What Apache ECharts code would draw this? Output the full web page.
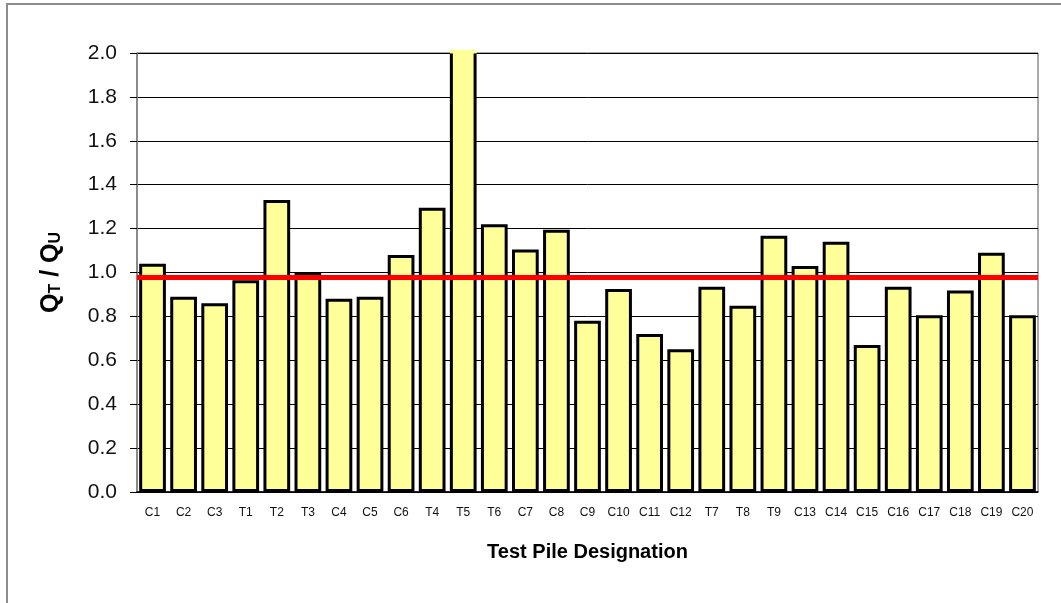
<!DOCTYPE html>
<html>
<head>
<meta charset="utf-8">
<script src="https://cdn.jsdelivr.net/npm/echarts@6/dist/echarts.min.js"></script>
<style>
  html, body { margin: 0; padding: 0; background: #fff; }
  #chart { width: 1061px; height: 603px; }
</style>
</head>
<body>
<div id="chart"></div>
<script>
// test pile designations, in plotted order
const piles = ["C1", "C2", "C3", "T1", "T2", "T3", "C4", "C5", "C6", "T4", "T5", "T6",
  "C7", "C8", "C9", "C10", "C11", "C12", "T7", "T8", "T9", "C13", "C14", "C15",
  "C16", "C17", "C18", "C19", "C20"];
// Q_T / Q_U ratio per pile (T5 runs just past the top of the axis)
const ratios = [1.04, 0.89, 0.86, 0.965, 1.33, 1.0, 0.88, 0.89, 1.08, 1.295, 2.015, 1.22,
  1.105, 1.195, 0.78, 0.925, 0.72, 0.65, 0.935, 0.848, 1.167, 1.03, 1.14, 0.67,
  0.935, 0.805, 0.918, 1.09, 0.805];
// reference line level
const refLevel = 0.985;
const yTicks = [0, 0.2, 0.4, 0.6, 0.8, 1.0, 1.2, 1.4, 1.6, 1.8, 2.0];

// the off-scale bar has no top edge in the original
const openTop = new echarts.graphic.LinearGradient(0, 0, 0, 1, [
  { offset: 0, color: "#ffff99" },
  { offset: 0.008, color: "#ffff99" },
  { offset: 0.009, color: "#000" },
  { offset: 1, color: "#000" },
]);

const barData = ratios.map((v) =>
  v > yTicks[yTicks.length - 1] ? { value: v, itemStyle: { borderColor: openTop } } : v
);

const chart = echarts.init(document.getElementById("chart"));
chart.setOption({
  animation: false,
  textStyle: { fontFamily: "Liberation Sans, Arial, sans-serif" },
  graphic: [{
    type: "rect",
    shape: { x: 7, y: 4, width: 1100, height: 700 },
    style: { fill: "none", stroke: "#8c8c8c", lineWidth: 2 },
    silent: true,
  }],
  grid: {
    left: 137,
    right: 23,
    top: 53,
    bottom: 111,
    show: true,
    borderColor: "#555",
    borderWidth: 1,
  },
  xAxis: {
    type: "category",
    data: piles,
    axisLine: { lineStyle: { color: "#000", width: 1.5 } },
    axisTick: { length: 5, lineStyle: { color: "#000" } },
    axisLabel: { color: "#111", fontSize: 12, margin: 15, interval: 0 },
    name: "Test Pile Designation",
    nameLocation: "middle",
    nameGap: 50,
    nameTextStyle: { color: "#000", fontSize: 20, fontWeight: "bold" },
  },
  yAxis: {
    type: "value",
    min: yTicks[0],
    max: yTicks[yTicks.length - 1],
    interval: 0.2,
    axisLine: { show: true, lineStyle: { color: "#808080", width: 1.5 } },
    axisTick: { show: true, length: 7, lineStyle: { color: "#000" } },
    axisLabel: {
      color: "#111",
      fontSize: 21,
      margin: 20,
      formatter: (v) => v.toFixed(1),
    },
    splitLine: { lineStyle: { color: "#000", width: 1 } },
    name: "{q|Q}{s|T}{q| / Q}{s|U}",
    nameLocation: "middle",
    nameGap: 73,
    nameTextStyle: {
      rich: {
        q: { fontSize: 25, fontWeight: "bold", color: "#000", verticalAlign: "bottom", lineHeight: 28 },
        s: { fontSize: 16, fontWeight: "bold", color: "#000", verticalAlign: "bottom", lineHeight: 24 },
      },
    },
  },
  series: [{
    type: "bar",
    data: barData,
    barCategoryGap: "14%",
    clip: false,
    itemStyle: { color: "#ffff99", borderColor: "#000", borderWidth: 3 },
    markLine: {
      silent: true,
      symbol: "none",
      label: { show: false },
      lineStyle: { color: "#ff0000", width: 5, type: "solid" },
      data: [{ yAxis: refLevel }],
    },
  }],
});
</script>
</body>
</html>
